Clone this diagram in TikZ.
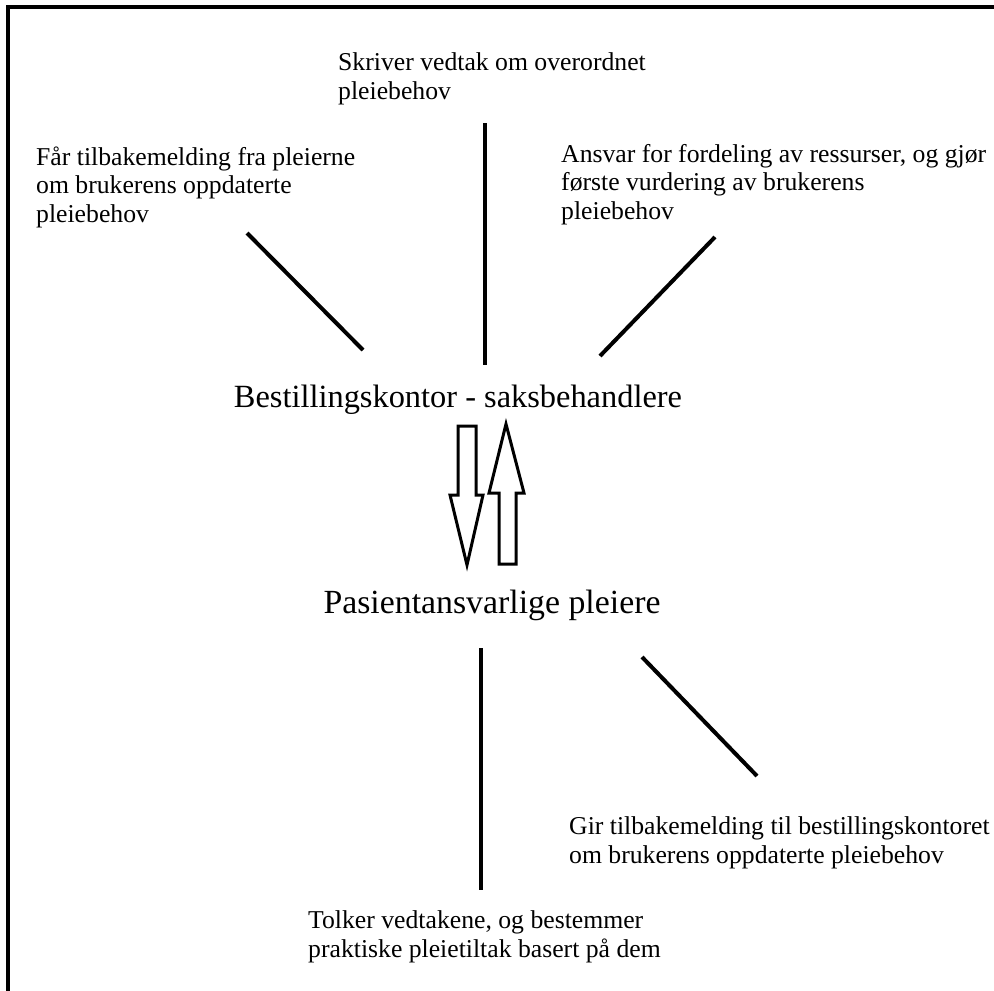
\documentclass[tikz,border=0pt]{standalone}
\usepackage{fontspec}
\setmainfont{Liberation Serif}
\begin{document}
\begin{tikzpicture}[x=1pt,y=-1pt,
  lbl/.style={anchor=base west,inner sep=0pt,align=left,font=\fontsize{25.7}{28.5}\selectfont},
  big/.style={anchor=base,inner sep=0pt,font=\fontsize{#1}{36}\selectfont},
  big/.default=32.4,
  link/.style={line width=4pt},
  frame/.style={line width=4pt},
  block/.style={line width=3pt,fill=white,line join=miter}]
\useasboundingbox (0,0) rectangle (994,991);
\draw[frame] (994,7) -- (8,7) -- (8,991);

% text (base anchor = baseline of the last line)
\node[lbl] (skriver) at (338,99) {Skriver vedtak om overordnet\\pleiebehov};
\node[lbl] (faar) at (36,222) {Får tilbakemelding fra pleierne\\om brukerens oppdaterte\\pleiebehov};
\node[lbl] (ansvar) at (561,219) {Ansvar for fordeling av ressurser, og gjør\\første vurdering av brukerens\\pleiebehov};
\node[big] (best) at (458,407) {Bestillingskontor - saksbehandlere};
\node[big=33.8] (pas) at (492,613) {Pasientansvarlige pleiere};
\node[lbl] (gir) at (569,863) {Gir tilbakemelding til bestillingskontoret\\om brukerens oppdaterte pleiebehov};
\node[lbl] (tolker) at (308,957) {Tolker vedtakene, og bestemmer\\praktiske pleietiltak basert på dem};

% connector ends
\coordinate (s1) at (485,123); \coordinate (s2) at (485,365);
\coordinate (f1) at (247,233); \coordinate (f2) at (363,350);
\coordinate (a1) at (715,237); \coordinate (a2) at (600,356);
\coordinate (t1) at (481,648); \coordinate (t2) at (481,890);
\coordinate (g1) at (642,657); \coordinate (g2) at (757,776);
\draw[link] (s1) -- (s2);
\draw[link] (f1) -- (f2);
\draw[link] (a1) -- (a2);
\draw[link] (t1) -- (t2);
\draw[link] (g1) -- (g2);

% block arrows
\draw[block] (458,426) -- (476,426) -- (476,495) -- (483,495) -- (467,565) -- (450,495) -- (458,495) -- cycle;
\draw[block] (499,564) -- (516,564) -- (516,493) -- (524,493) -- (506,424) -- (489,493) -- (499,493) -- cycle;
\end{tikzpicture}
\end{document}
